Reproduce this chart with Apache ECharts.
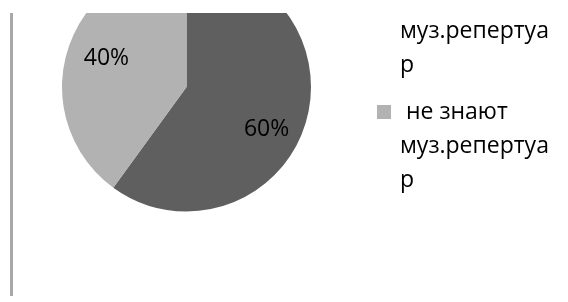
<!DOCTYPE html>
<html>
<head>
<meta charset="utf-8">
<script src="https://cdn.jsdelivr.net/npm/echarts@6/dist/echarts.min.js"></script>
<style>
  html, body { margin: 0; padding: 0; background: #fff; }
  #main { width: 568px; height: 302px; }
</style>
</head>
<body>
<div id="main"></div>
<script>
// данные
var names = ['знают муз.репертуар', 'не знают муз.репертуар'];
var values = [60, 40];
// как подписи переносятся в легенде
var legendLabels = ['знают\nмуз.репертуа\nр', ' не знают\nмуз.репертуа\nр'];
var colors = ['#5f5f5f', '#b2b2b2'];
var labelOffsets = [[18, 22], [-18, -8]];

var myChart = echarts.init(document.getElementById('main'));

var pieData = names.map(function (n, i) {
    return {
        name: n,
        value: values[i],
        itemStyle: { color: colors[i] },
        label: { offset: labelOffsets[i] }
    };
});

option = {
    backgroundColor: '#fff',
    animation: false,
    legend: {
        orient: 'vertical',
        left: 377,
        top: -88,
        padding: 0,
        itemGap: -55,
        itemWidth: 14,
        itemHeight: 14,
        icon: 'rect',
        selectedMode: false,
        data: names,
        // две пустые строки сверху, чтобы первая строка встала напротив значка
        formatter: function (name) {
            return '\n\n' + legendLabels[names.indexOf(name)];
        },
        textStyle: {
            color: '#000',
            fontFamily: 'Open Sans',
            fontSize: 23,
            lineHeight: 34,
            padding: [0, 0, 0, 4]
        }
    },
    graphic: [{
        // верх картинки обрезан
        type: 'rect',
        z: 100,
        shape: { x: 0, y: 0, width: 568, height: 13 },
        style: { fill: '#fff' }
    }, {
        type: 'line',
        z: 100,
        shape: { x1: 11.5, y1: 13, x2: 11.5, y2: 296 },
        style: { stroke: '#a8a8a8', lineWidth: 3 }
    }],
    series: [{
        type: 'pie',
        center: [186.5, 87],
        radius: 124.5,
        startAngle: 90,
        clockwise: true,
        silent: true,
        data: pieData,
        itemStyle: { borderWidth: 0 },
        label: {
            show: true,
            position: 'inside',
            formatter: '{d}%',
            color: '#000',
            fontFamily: 'Open Sans',
            fontSize: 23
        },
        labelLine: { show: false }
    }]
};

myChart.setOption(option);

window.onresize = function () {
    myChart.resize();
};
</script>
</body>
</html>
